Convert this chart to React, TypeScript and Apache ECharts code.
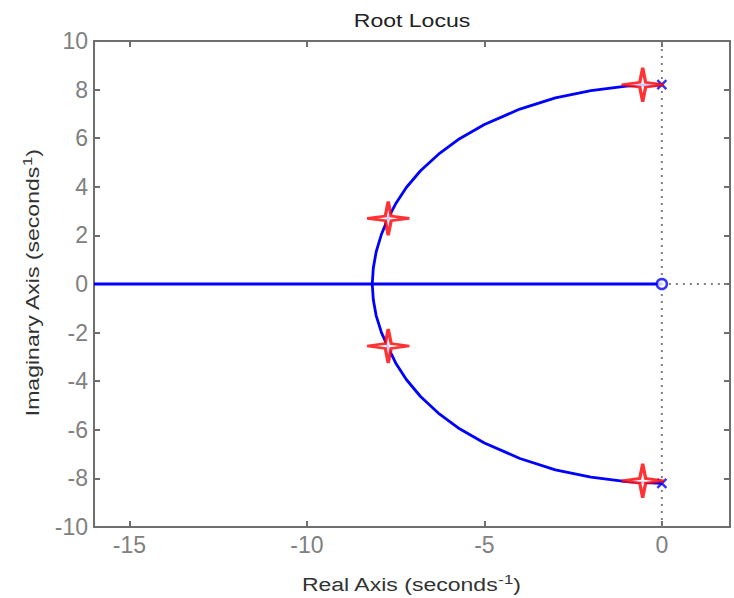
import React, { useEffect, useRef } from "react";
import * as echarts from "echarts";

// Axis extents and tick positions
const xMin = -16;
const xMax = 1.92;
const yMin = -10;
const yMax = 10;
const xTicks = [-15, -10, -5, 0];
const yTicks = [-10, -8, -6, -4, -2, 0, 2, 4, 6, 8, 10];

// Upper locus branch (from the upper pole to the break-in point)
const upperRe = [0, -0.5, -1.0, -2.0, -3.0, -4.0, -5.0, -5.7, -6.3, -6.8, -7.2, -7.5, -7.71, -7.9, -8.05, -8.13, -8.16];
const upperIm = [8.2, 8.18, 8.14, 7.96, 7.66, 7.2, 6.56, 5.98, 5.33, 4.66, 3.97, 3.3, 2.72, 2.05, 1.32, 0.66, 0];

// Lower locus branch (from the lower pole to the break-in point)
const lowerRe = [0, -0.5, -1.0, -2.0, -3.0, -4.0, -5.0, -5.7, -6.3, -6.8, -7.2, -7.5, -7.71, -7.9, -8.05, -8.13, -8.16];
const lowerIm = [-8.2, -8.17, -8.13, -7.95, -7.65, -7.18, -6.54, -5.96, -5.31, -4.63, -3.93, -3.25, -2.62, -2.0, -1.3, -0.65, 0];

// Real-axis segment of the locus
const realRe = [-16, 0];
const realIm = [0, 0];

// Open-loop poles and zero
const poleRe = [0, 0];
const poleIm = [8.2, -8.2];
const zeroRe = [0];
const zeroIm = [0];

// Closed-loop poles at the selected gain
const gainRe = [-0.54, -7.71, -7.71, -0.54];
const gainIm = [8.2, 2.7, -2.55, -8.1];

const pairs = (re: number[], im: number[]) => re.map((r, i) => [r, im[i]]);

const AXIS_GRAY = "#6e6e6e";
const LABEL_GRAY = "#808080";
const NAME_COLOR = "#333333";
const BLUE = "#0000ff";
const TEXT_FONT = "'Liberation Sans', Arial, sans-serif";

const STAR_PATH = "path://M50,0 L57,43 L100,50 L57,57 L50,100 L43,57 L0,50 L43,43 Z";
const CROSS_PATH = "path://M0,0 L10,10 M10,0 L0,10";

export default function App() {
  const ref = useRef<HTMLDivElement>(null);

  useEffect(() => {
    if (!ref.current) return;
    const chart = echarts.init(ref.current, undefined, { renderer: "svg" });

    const axisLine = { show: true, onZero: false, lineStyle: { color: AXIS_GRAY, width: 2 } };
    const tickStyle = { color: AXIS_GRAY, width: 2 };
    const label = { color: LABEL_GRAY, fontSize: 23, fontFamily: TEXT_FONT };

    const nameRich = {
      n: { fontSize: 18, fontFamily: TEXT_FONT, fill: NAME_COLOR },
      s: { fontSize: 13, fontFamily: TEXT_FONT, fill: NAME_COLOR, padding: [0, 0, 10, 0] },
    };

    chart.setOption({
      animation: false,
      backgroundColor: "#ffffff",
      grid: { left: 94, top: 41, right: 4, bottom: 71, containLabel: false },
      xAxis: [
        {
          type: "value",
          min: xMin,
          max: xMax,
          axisLine,
          axisTick: { show: true, inside: true, length: 6, customValues: xTicks, lineStyle: tickStyle },
          axisLabel: { ...label, margin: 6, customValues: xTicks },
          splitLine: { show: false },
        },
        {
          type: "value",
          position: "top",
          min: xMin,
          max: xMax,
          axisLine,
          axisTick: { show: true, inside: true, length: 6, customValues: xTicks, lineStyle: tickStyle },
          axisLabel: { show: false },
          splitLine: { show: false },
        },
      ],
      yAxis: [
        {
          type: "value",
          min: yMin,
          max: yMax,
          interval: 2,
          axisLine,
          axisTick: { show: true, inside: true, length: 6, customValues: yTicks, lineStyle: tickStyle },
          axisLabel: { ...label, margin: 6, customValues: yTicks },
          splitLine: { show: false },
        },
        {
          type: "value",
          position: "right",
          min: yMin,
          max: yMax,
          interval: 2,
          axisLine,
          axisTick: { show: true, inside: true, length: 6, customValues: yTicks, lineStyle: tickStyle },
          axisLabel: { show: false },
          splitLine: { show: false },
        },
      ],
      graphic: [
        {
          type: "text",
          x: 412,
          y: 20,
          scaleX: 1.28,
          style: {
            text: "Root Locus",
            fontSize: 18,
            fontFamily: TEXT_FONT,
            fill: "#222222",
            align: "center",
            verticalAlign: "middle",
          },
        },
        {
          type: "text",
          x: 411,
          y: 584,
          scaleX: 1.28,
          style: {
            text: "{n|Real Axis (seconds}{s|-1}{n|)}",
            rich: nameRich,
            align: "center",
            verticalAlign: "middle",
          },
        },
        {
          type: "text",
          x: 32,
          y: 283,
          rotation: Math.PI / 2,
          scaleX: 1.28,
          style: {
            text: "{n|Imaginary Axis (seconds}{s|1}{n|)}",
            rich: nameRich,
            align: "center",
            verticalAlign: "middle",
          },
        },
      ],
      series: [
        {
          name: "imag-guide",
          type: "line",
          data: [[0, yMin], [0, yMax]],
          symbol: "none",
          z: 1,
          lineStyle: { color: LABEL_GRAY, width: 2, type: [2, 5] },
        },
        {
          name: "real-guide",
          type: "line",
          data: [[0, 0], [xMax, 0]],
          symbol: "none",
          z: 1,
          lineStyle: { color: LABEL_GRAY, width: 2, type: [2, 5] },
        },
        {
          name: "real-branch",
          type: "line",
          data: pairs(realRe, realIm),
          symbol: "none",
          z: 2,
          lineStyle: { color: BLUE, width: 2.8 },
        },
        {
          name: "upper-branch",
          type: "line",
          data: pairs(upperRe, upperIm),
          symbol: "none",
          z: 2,
          lineStyle: { color: BLUE, width: 2.8 },
        },
        {
          name: "lower-branch",
          type: "line",
          data: pairs(lowerRe, lowerIm),
          symbol: "none",
          z: 2,
          lineStyle: { color: BLUE, width: 2.8 },
        },
        {
          name: "poles",
          type: "scatter",
          data: pairs(poleRe, poleIm),
          symbol: CROSS_PATH,
          symbolSize: 9,
          z: 3,
          itemStyle: { color: "transparent", borderColor: BLUE, borderWidth: 2.5 },
        },
        {
          name: "zero",
          type: "scatter",
          data: pairs(zeroRe, zeroIm),
          symbol: "circle",
          symbolSize: 10,
          z: 3,
          itemStyle: { color: "#ffffff", borderColor: BLUE, borderWidth: 2.5 },
        },
        {
          name: "closed-loop poles",
          type: "scatter",
          data: pairs(gainRe, gainIm),
          symbol: STAR_PATH,
          symbolSize: [42, 34],
          z: 4,
          itemStyle: { color: "#ffffff", borderColor: "#ff0000", borderWidth: 3 },
        },
      ],
    });

    return () => chart.dispose();
  }, []);

  return (
    <div
      ref={ref}
      style={{ position: "fixed", left: 0, top: 0, width: 734, height: 598, background: "#ffffff" }}
    />
  );
}
